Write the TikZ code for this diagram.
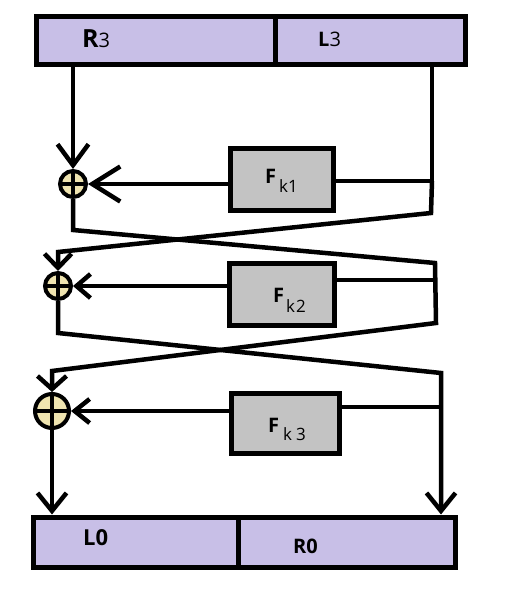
\documentclass[tikz,border=0pt]{standalone}
\usepackage{fontspec}
\setmainfont{Open Sans}
\usetikzlibrary{arrows.meta}
\definecolor{lav}{HTML}{C8BFE7}
\definecolor{fgray}{HTML}{C3C3C3}
\definecolor{cream}{HTML}{EFE4B0}
\tikzset{
  bar/.style={draw, fill=lav, line width=5pt, inner sep=0pt},
  fbox/.style={draw, fill=fgray, line width=5pt, inner sep=0pt},
  xor/.style={circle, draw, fill=cream, line width=4pt, inner sep=0pt, minimum size=#1,
    path picture={\draw[line width=3.5pt] (path picture bounding box.north) -- (path picture bounding box.south)
      (path picture bounding box.west) -- (path picture bounding box.east);}},
  lbl/.style={anchor=base west, inner sep=0pt},
  wire/.style={line width=4.5pt},
  barb/.style n args={2}{-{Straight Barb[length=#1,width=#2]}}
}
\begin{document}
\begin{tikzpicture}[x=1pt,y=-1pt]
\useasboundingbox (0,0) rectangle (529,597);
% bars
\node[bar, minimum width=239pt, minimum height=48pt] (topL) at (155.5,40) {};
\node[bar, minimum width=190pt, minimum height=48pt] (topR) at (370,40) {};
\node[bar, minimum width=205pt, minimum height=50pt] (botL) at (135.5,542) {};
\node[bar, minimum width=217pt, minimum height=50pt] (botR) at (346.5,542) {};
% F boxes
\node[fbox, minimum width=103pt, minimum height=62pt] (f1) at (281.5,179) {};
\node[fbox, minimum width=105pt, minimum height=62pt] (f2) at (281.5,294) {};
\node[fbox, minimum width=108pt, minimum height=60pt] (f3) at (285,423) {};
% coordinates of the wires
\coordinate (r1) at (431,213);
\coordinate (o1) at (432,181);
\coordinate (l1) at (73,230);
\coordinate (l1b) at (58,252);
\coordinate (r2a) at (435,263);
\coordinate (o2) at (435,280);
\coordinate (r2b) at (436,323);
\coordinate (l2a) at (58,333);
\coordinate (l2b) at (52,371);
\coordinate (r3a) at (441,373);
\coordinate (o3) at (441,407);
% wires
\draw[wire] (topR.south -| o1) -- (o1);
\draw[wire] (f1.east |- o1) -- (o1);
\draw[wire] (f2.east |- o2) -- (o2);
\draw[wire] (f3.east |- o3) -- (o3);
% XORs
\node[xor=26pt] (x1) at (73,184) {};
\node[xor=26pt] (x2) at (58,286) {};
\node[xor=34pt] (x3) at (52,411) {};
\draw[wire, barb={21pt}{31pt}] (x1 |- topL.south) -- (x1.north);
\draw[wire, barb={28pt}{35pt}] (f1.west |- x1) -- (x1.east);
\draw[wire, barb={14pt}{27pt}] (o1) -- (r1) -- (l1b) -- (x2.north);
\draw[wire, barb={14pt}{24pt}] (f2.west |- x2) -- (x2.east);
\draw[wire, barb={13pt}{29pt}] (x1.south) -- (l1) -- (r2a) -- (r2b) -- (l2b) -- (x3.north);
\draw[wire, barb={15pt}{24pt}] (f3.west |- x3) -- (x3.east);
\draw[wire, barb={18pt}{29pt}] (x2.south) -- (l2a) -- (r3a) -- (r3a |- botR.north);
\draw[wire, barb={18pt}{29pt}] (x3.south) -- (x3 |- botL.north);
% labels
\node[lbl] (tR3) at (82,47) {\fontsize{25}{25}\selectfont\bfseries R\fontsize{20}{20}\selectfont\mdseries 3};
\node[lbl] (tL3) at (318,46) {\fontsize{20}{20}\selectfont\bfseries L\mdseries 3};
\node[lbl] (tL0) at (83,545) {\fontsize{22}{22}\selectfont\bfseries L0};
\node[lbl] (tR0) at (293,553) {\fontsize{20}{20}\selectfont\bfseries R0};
\node[lbl] (tF1) at (265,183) {\fontsize{20}{20}\selectfont\bfseries F\kern3pt\raisebox{-9pt}{\fontsize{17}{17}\selectfont\mdseries k1}};
\node[lbl] (tF2) at (273,302) {\fontsize{20}{20}\selectfont\bfseries F\kern2pt\raisebox{-10pt}{\fontsize{17}{17}\selectfont\mdseries k\kern1pt 2}};
\node[lbl] (tF3) at (268,432) {\fontsize{20}{20}\selectfont\bfseries F\kern4pt\raisebox{-8pt}{\fontsize{17}{17}\selectfont\mdseries k\kern4pt 3}};
\end{tikzpicture}
\end{document}
